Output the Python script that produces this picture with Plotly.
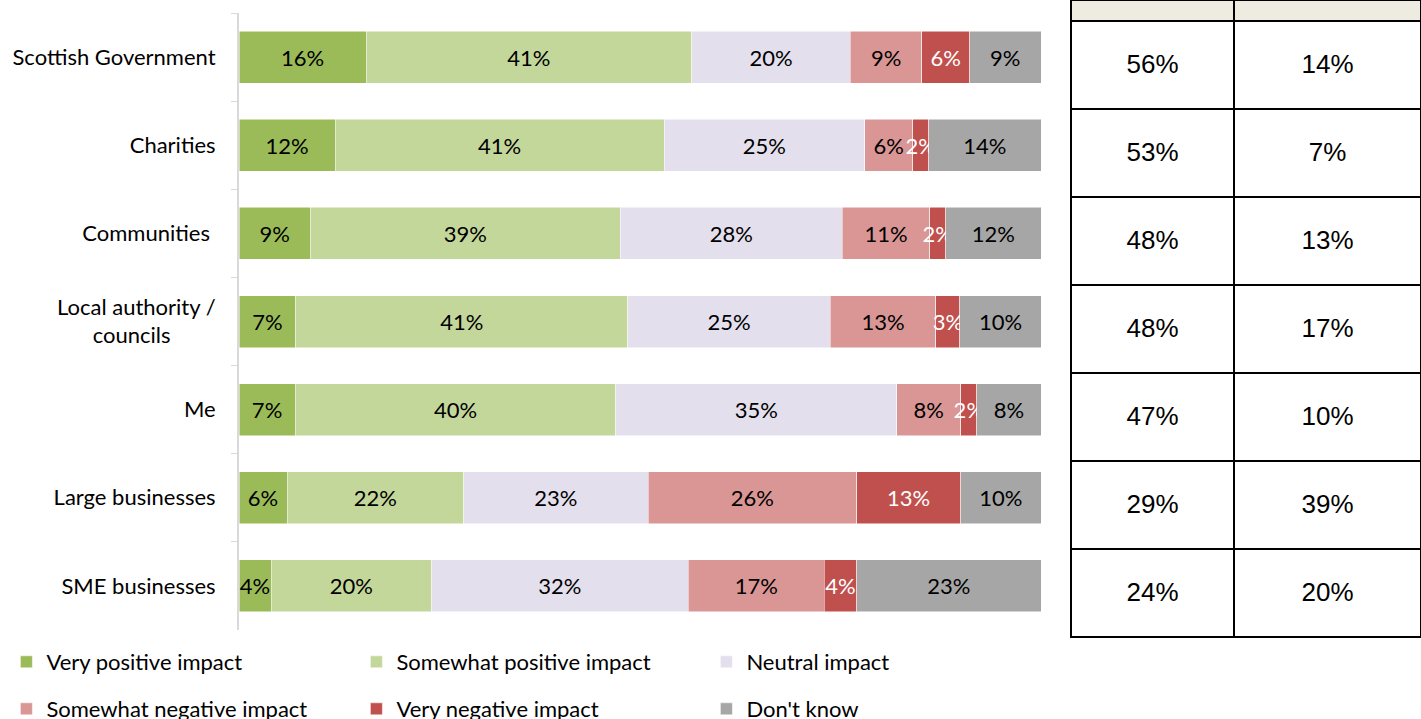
import plotly.graph_objects as go

# survey data (row order top to bottom)
orgs = ["Scottish Government", "Charities", "Communities\u00a0", "Local authority /<br>councils" + "\u00a0" * 8,
        "Me", "Large businesses", "SME businesses"]
series = ["Very positive impact", "Somewhat positive impact", "Neutral impact",
          "Somewhat negative impact", "Very negative impact", "Don't know"]
very_pos = [16, 12, 9, 7, 7, 6, 4]
some_pos = [41, 41, 39, 41, 40, 22, 20]
neutral = [20, 25, 28, 25, 35, 23, 32]
some_neg = [9, 6, 11, 13, 8, 26, 17]
very_neg = [6, 2, 2, 3, 2, 13, 4]
dont_know = [9, 14, 12, 10, 8, 10, 23]

net_positive = ["56%", "53%", "48%", "48%", "47%", "29%", "24%"]
net_negative = ["14%", "7%", "13%", "17%", "10%", "39%", "20%"]

colors = ["#9BBB59", "#C4D79B", "#E4DFEC", "#DA9694", "#C0504D", "#A6A6A6"]
text_colors = ["black", "black", "black", "black", "white", "black"]

W, H = 1421, 719
FONT = "Lato"
FS = 22


def cell(v):
    # blank first line so the value sits in the middle of the tall cell
    return "\u00a0<br><span\nstyle='font-size:26px'>" + v + "</span>"


fig = go.Figure()
all_vals = [very_pos, some_pos, neutral, some_neg, very_neg, dont_know]
for i, (name, vals) in enumerate(zip(series, all_vals)):
    fig.add_trace(go.Bar(
        y=orgs, x=vals, name=name, orientation="h",
        marker=dict(color=colors[i], line=dict(color="white", width=0.5)),
        text=[f"{v}%" for v in vals], textposition="inside", textangle=0,
        insidetextanchor="middle", constraintext="none",
        textfont=dict(family=FONT, size=FS, color=text_colors[i]),
        legend="legend" if i < 3 else "legend2",
        hoverinfo="skip",
    ))

fig.add_trace(go.Table(
    domain=dict(x=[1071 / W, 1], y=[0, 1]),
    columnwidth=[163, 187],
    header=dict(values=["", ""], height=21, fill_color="#EEECE1",
                line=dict(color="black", width=2), font=dict(size=10)),
    cells=dict(values=[[cell(v) for v in net_positive], [cell(v) for v in net_negative]],
               height=88, align="center",
               fill_color="white", line=dict(color="black", width=2),
               font=dict(family="Liberation Sans", size=20, color="black")),
))

plot_h = 638
fig.update_layout(
    width=W, height=H,
    barmode="stack", barnorm="percent", bargap=0.41,
    margin=dict(l=0, r=0, t=0, b=H - plot_h, autoexpand=False),
    plot_bgcolor="white", paper_bgcolor="white",
    font=dict(family=FONT, size=FS, color="black"),
    uniformtext=dict(minsize=FS, mode="show"),
    xaxis=dict(domain=[239 / W, 1041 / W], range=[0, 100], visible=False, fixedrange=True),
    yaxis=dict(domain=[(plot_h - 630) / plot_h, (plot_h - 13) / plot_h],
               autorange="reversed", showline=True, linecolor="#D9D9D9", linewidth=2,
               ticks="outside", ticklen=6, tickcolor="#D9D9D9", tickson="boundaries",
               ticklabelstandoff=17, showgrid=False, fixedrange=True),
    legend=dict(orientation="h", x=0.0045, xanchor="left", y=-(662 - plot_h) / plot_h,
                yanchor="middle", entrywidth=305, font=dict(size=FS), traceorder="normal"),
    legend2=dict(orientation="h", x=0.0045, xanchor="left", y=-(709 - plot_h) / plot_h,
                 yanchor="middle", entrywidth=305, font=dict(size=FS), traceorder="normal"),
    showlegend=True,
)

fig.write_html("out.html", config={"displayModeBar": False},
               post_script="document.body.style.margin='0px';")
